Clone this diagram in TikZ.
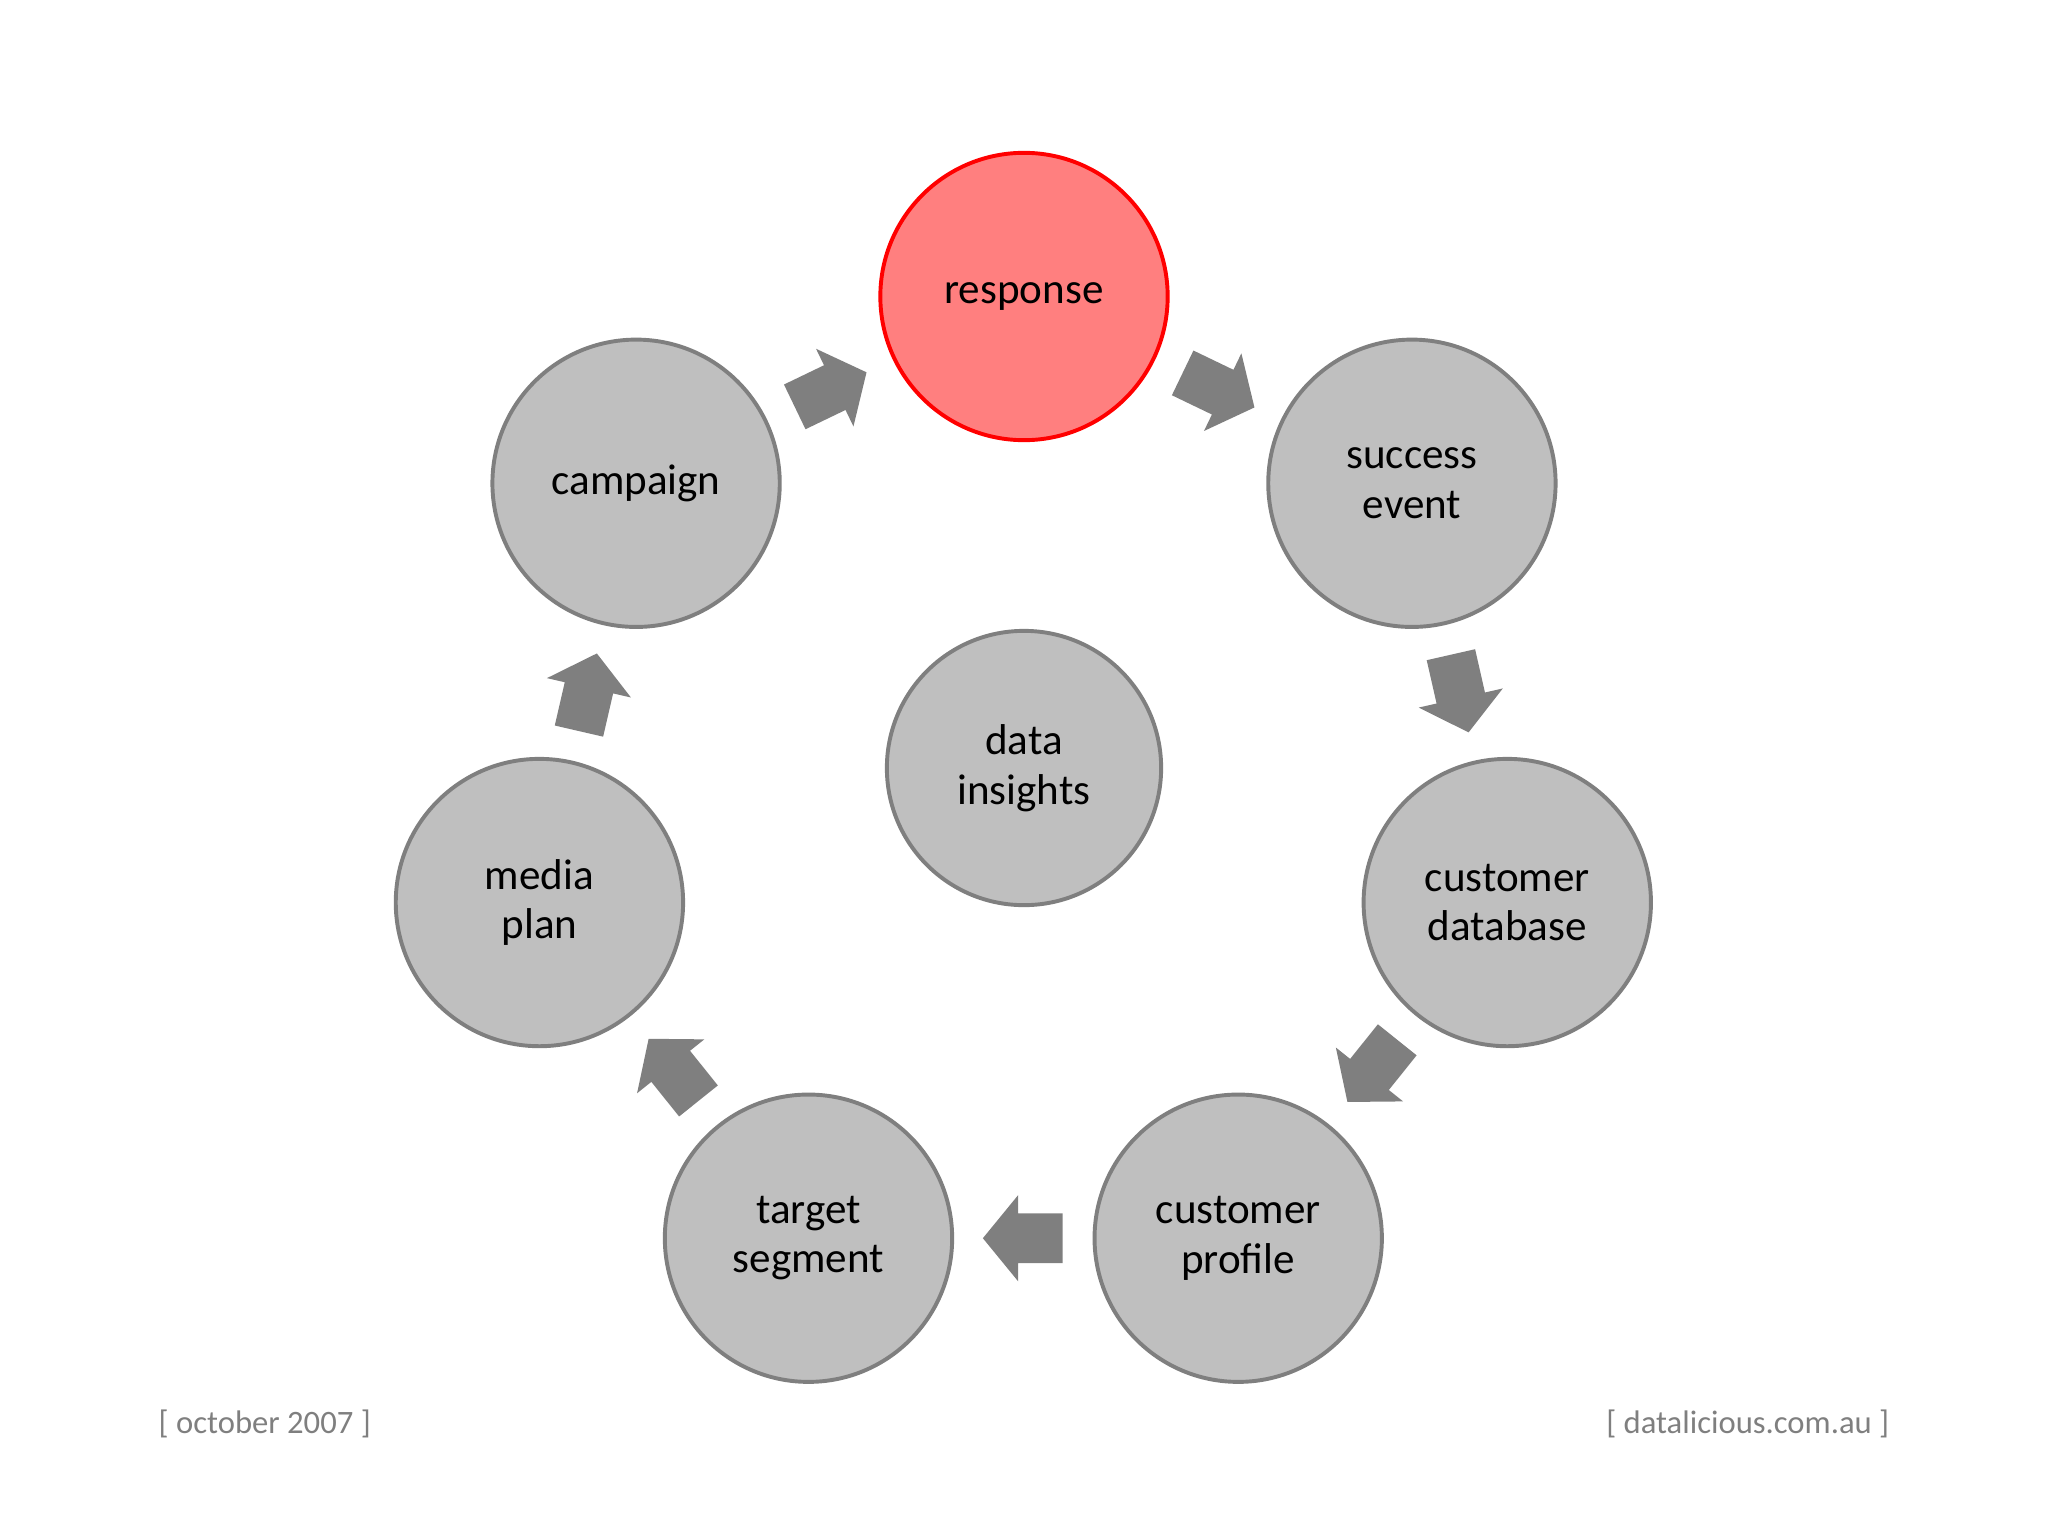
\documentclass[tikz,border=0pt]{standalone}
\usepackage{fontspec}
\setmainfont{Carlito}
\definecolor{cfill}{HTML}{BFBFBF}
\definecolor{cline}{HTML}{7F7F7F}
\definecolor{rfill}{HTML}{FF7F7F}
\definecolor{afill}{HTML}{7F7F7F}
\begin{document}
\begin{tikzpicture}[x=1pt,y=-1pt,
  stage/.style={circle,draw=cline,fill=cfill,line width=3pt,minimum size=220pt,inner sep=0pt,align=center,font=\fontsize{33}{38}\selectfont},
  hot/.style={stage,draw=red,fill=rfill},
  flow/.style={sloped,allow upside down,midway},
  foot/.style={font=\fontsize{25}{28}\selectfont,text=cline},
  blockarrow/.pic={\fill[afill] (-30,-19)--(4,-19)--(4,-33)--(31,0)--(4,33)--(4,19)--(-30,19)--cycle;}]
\useasboundingbox (0,0) rectangle (1568,1176);
\node[hot] (resp) at (784,227) {response};
\node[stage] (succ) at (1081,370) {success\\event};
\node[stage] (db) at (1154,691) {customer\\database};
\node[stage] (prof) at (948,948) {customer\\profile};
\node[stage] (targ) at (619,948) {target\\segment};
\node[stage] (media) at (413,691) {media\\plan};
\node[stage] (camp) at (487,370) {campaign};
\node[stage,minimum size=210pt] (data) at (784,588) {data\\insights};
\path (camp) -- (resp) pic[flow] {blockarrow};
\path (resp) -- (succ) pic[flow] {blockarrow};
\path (succ) -- (db) pic[flow] {blockarrow};
\path (db) -- (prof) pic[flow] {blockarrow};
\path (prof) -- (targ) pic[flow] {blockarrow};
\path (targ) -- (media) pic[flow] {blockarrow};
\path (media) -- (camp) pic[flow] {blockarrow};
\node[foot,anchor=west] (f1) at (118,1090) {[ october 2007 ]};
\node[foot,anchor=east] (f2) at (1450,1090) {[ datalicious.com.au ]};
\end{tikzpicture}
\end{document}
